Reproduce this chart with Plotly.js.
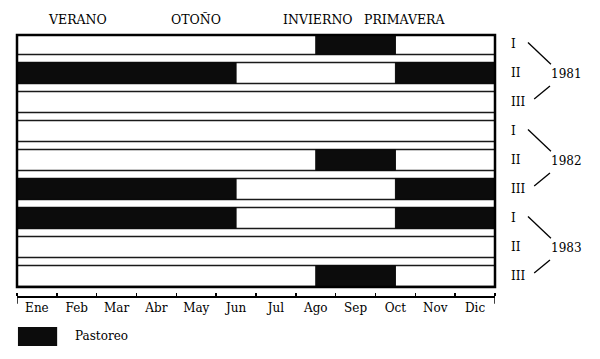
<!DOCTYPE html>
<html>
<head>
<meta charset="utf-8">
<script src="https://cdn.plot.ly/plotly-3.0.1.min.js"></script>
<style>html,body{margin:0;padding:0;background:#fff;}#chart{width:600px;height:359px;}</style>
</head>
<body>
<div id="chart"></div>
<script>
// ---- data ----
const months = ['Ene','Feb','Mar','Abr','May','Jun','Jul','Ago','Sep','Oct','Nov','Dic'];
const seasons = ['VERANO','OTOÑO','INVIERNO','PRIMAVERA'];
const seasonPos = [1.53, 4.5, 7.55, 9.75];
const rowLabels = ['I','II','III','I','II','III','I','II','III'];
const years = ['1981','1982','1983'];
// grazing (Pastoreo) segments: row index, start month, end month
const grazeRow   = [0,   1,   1,   4,   5,   5,   6,   6,   8];
const grazeStart = [7.5, 0,   9.5, 7.5, 0,   9.5, 0,   9.5, 7.5];
const grazeEnd   = [9.5, 5.5, 12,  9.5, 5.5, 12,  5.5, 12,  9.5];

const rowIdx = rowLabels.map((_, i) => i);
const FONT = 'DejaVu Serif, Liberation Serif, serif';

const traces = [
  {
    type: 'bar', orientation: 'h',
    y: rowIdx, x: rowIdx.map(() => months.length), base: rowIdx.map(() => 0),
    width: 0.72,
    marker: {color: '#ffffff', line: {color: '#1a1a1a', width: 1.5}},
    showlegend: false, hoverinfo: 'skip'
  },
  {
    type: 'bar', orientation: 'h', name: 'Pastoreo',
    y: grazeRow, base: grazeStart, x: grazeEnd.map((e, i) => e - grazeStart[i]),
    width: 0.72,
    marker: {color: '#0c0c0c', line: {color: '#0c0c0c', width: 1}},
    showlegend: false
  }
];

const shapes = [];
const annotations = [];
// frame
shapes.push({type: 'rect', xref: 'x domain', yref: 'y domain', x0: 0, x1: 1, y0: 0, y1: 1,
  line: {color: '#000', width: 2.5}, layer: 'above'});
// end ticks of month axis
[0, months.length].forEach(v => shapes.push({type: 'line', xref: 'x', yref: 'paper',
  x0: v, x1: v, y0: 0.004, y1: -0.03, line: {color: '#000', width: 1.5}}));
// year brackets
years.forEach((yr, g) => {
  const b = g * 3;
  shapes.push({type: 'line', xref: 'paper', yref: 'y', x0: 1.069, x1: 1.117,
    y0: b - 0.05, y1: b + 0.7, line: {color: '#000', width: 1.3}});
  shapes.push({type: 'line', xref: 'paper', yref: 'y', x0: 1.082, x1: 1.115,
    y0: b + 1.9, y1: b + 1.45, line: {color: '#000', width: 1.3}});
  annotations.push({text: yr, xref: 'paper', yref: 'y', x: 1.15, y: b + 1.05,
    xanchor: 'center', yanchor: 'middle', showarrow: false,
    font: {family: FONT, size: 12, color: '#000'}});
});
// seasons
seasons.forEach((s, i) => annotations.push({text: s, xref: 'x', yref: 'paper',
  x: seasonPos[i], y: 1.06, xanchor: 'center', yanchor: 'middle', showarrow: false,
  font: {family: FONT, size: 12.5, color: '#000'}}));
// legend (Pastoreo)
shapes.push({type: 'rect', xref: 'paper', yref: 'paper', x0: 0.002, x1: 0.084,
  y0: -0.119, y1: -0.192, fillcolor: '#0c0c0c', line: {color: '#0c0c0c', width: 0}});
annotations.push({text: 'Pastoreo', xref: 'paper', yref: 'paper', x: 0.117, y: -0.155,
  xanchor: 'left', yanchor: 'middle', showarrow: false,
  font: {family: FONT, size: 12, color: '#000'}});

const layout = {
  width: 600, height: 359,
  margin: {l: 17, r: 105, t: 35, b: 63, pad: 0},
  paper_bgcolor: '#fff', plot_bgcolor: '#fff',
  barmode: 'overlay',
  font: {family: FONT, size: 12, color: '#000'},
  xaxis: {
    range: [0, months.length], anchor: 'free', position: 0,
    tickmode: 'array', tickvals: months.map((_, i) => i + 0.5), ticktext: months,
    ticks: '', showgrid: false, zeroline: false,
    showline: true, linecolor: '#000', linewidth: 1.5,
    minor: {tickmode: 'array', tickvals: months.map((_, i) => i).concat([months.length]),
      ticks: 'inside', ticklen: 3, tickwidth: 1.5, tickcolor: '#000', showgrid: false},
    tickfont: {family: FONT, size: 12, color: '#000'}, fixedrange: true
  },
  yaxis: {
    domain: [0.0345, 1], range: [8.38, -0.31], side: 'right',
    tickmode: 'array', tickvals: rowIdx, ticktext: rowLabels,
    ticks: '', ticklabelstandoff: 15, showgrid: false, zeroline: false, showline: false,
    tickfont: {family: FONT, size: 12, color: '#000'}, fixedrange: true
  },
  shapes: shapes,
  annotations: annotations,
  showlegend: false
};

Plotly.newPlot('chart', traces, layout, {displayModeBar: false, staticPlot: true});
</script>
</body>
</html>
